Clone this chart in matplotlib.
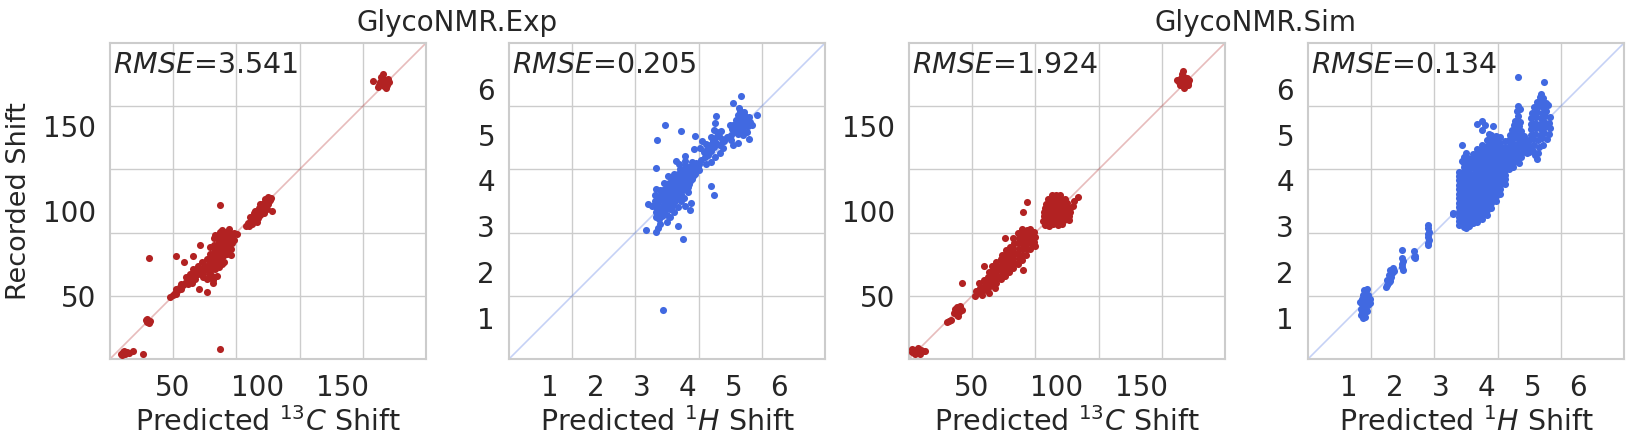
import matplotlib
matplotlib.use("Agg")
import matplotlib.pyplot as plt

# colours
C_COLOR = "firebrick"
H_COLOR = "royalblue"

# axis ranges and tick labels
c_lim = [13, 199]
h_lim = [0.1, 7.0]
c_ticks = [50, 100, 150]
h_ticks = [1, 2, 3, 4, 5, 6]

titles = ["GlycoNMR.Exp", "GlycoNMR.Sim"]
rmse = ["3.541", "0.205", "1.924", "0.134"]

# ---- GlycoNMR.Exp, 13C (predicted, recorded) ----
exp_c_top = [(167.8, 176.5), (171, 173), (172, 176), (173, 178), (174, 175), (175, 177),
             (176, 174), (177, 176), (173.5, 180.5), (172.5, 179), (175.5, 172.5),
             (171.5, 174.5), (176.5, 178), (174, 173.5)]
exp_c_100 = [(93, 91), (94, 93), (95, 91.5), (96, 94), (97, 96), (95.5, 96.5), (98, 95),
             (99, 97), (100, 99), (98.5, 100), (101, 98), (102, 101), (100.5, 102),
             (103, 103), (104, 102), (102.5, 104.5), (105, 105), (106, 104), (104.5, 107),
             (107, 106.5), (106, 108.5), (108, 108), (105.5, 101.5), (103.5, 99),
             (99.5, 93.5), (97.5, 99), (101.5, 104), (108.3, 100.3), (96.5, 92.5),
             (100, 96), (104, 105.5), (106.5, 106)]
exp_c_main = [(70, 66), (71, 69), (72, 67), (72, 71), (73, 70), (73, 74), (74, 72), (74, 76),
              (75, 70), (75, 74), (75, 78), (76, 73), (76, 77), (76, 80), (77, 75), (77, 79),
              (77, 82), (78, 72), (78, 77), (78, 81), (78, 85), (79, 76), (79, 80), (79, 84),
              (80, 74), (80, 78), (80, 82), (80, 86), (81, 77), (81, 81), (81, 84), (82, 79),
              (82, 83), (82, 87), (83, 80), (83, 84), (84, 78), (84, 82), (84, 86), (85, 81),
              (85, 84), (86, 83), (86, 87), (76, 84), (74, 80), (72, 75), (70, 72), (71, 63),
              (73, 66), (74, 68), (76, 69), (77, 71), (79, 73), (68, 64), (69, 68), (67, 70),
              (66, 64), (68, 61), (70, 60), (72, 63), (75, 66), (76, 62), (73, 62), (77, 67),
              (80, 70), (82, 75), (79, 69), (74, 84), (78, 88), (81, 88), (75, 86), (72, 79)]
exp_c_low = [(48.3, 49.7), (50, 50.5), (51, 52), (52, 51), (53, 53.5), (54.2, 55.6), (55, 54),
             (56, 56.5), (57, 58), (58.1, 58.5), (59, 57), (60, 60.5), (61.1, 62.4), (62, 61),
             (63, 64), (64, 65.4), (65, 63), (66, 66), (67, 65), (63, 60), (60, 63), (58, 61),
             (55, 57), (52, 54), (65, 68), (62, 66), (61, 58),
             (34.5, 34.5), (35.5, 35.5), (36, 34), (35, 36.5), (36.5, 35.3), (34, 35.8),
             (20, 15.5), (21, 16.5), (22, 15.8), (23, 17), (21.5, 17.8), (24, 16.5),
             (20.5, 17), (22.5, 16.8), (26.5, 17.5), (19.5, 15.8)]
exp_c_out = [(77.7, 103.6), (36, 72.3), (51.8, 73.6), (56.8, 69.9), (61.6, 73.8), (66, 80.1),
             (73.8, 59.5), (73.8, 57.7), (65.6, 54), (69.9, 52.3), (84, 74.2), (77.7, 18.7),
             (32.6, 16), (87.5, 86.4), (78.7, 88.9), (83.2, 89.3)]

# ---- GlycoNMR.Exp, 1H ----
exp_h_main = [(3.30, 3.20), (3.38, 3.15), (3.45, 3.22), (3.32, 3.30), (3.40, 3.28), (3.48, 3.32),
              (3.55, 3.25), (3.30, 3.42), (3.38, 3.40), (3.46, 3.45), (3.54, 3.40), (3.62, 3.38),
              (3.28, 3.55), (3.36, 3.52), (3.44, 3.58), (3.52, 3.55), (3.60, 3.52), (3.68, 3.50),
              (3.34, 3.65), (3.42, 3.68), (3.50, 3.70), (3.58, 3.66), (3.66, 3.64), (3.74, 3.62),
              (3.46, 3.80), (3.54, 3.82), (3.62, 3.78), (3.70, 3.76), (3.78, 3.74), (3.86, 3.70),
              (3.52, 3.92), (3.60, 3.95), (3.68, 3.90), (3.76, 3.88), (3.84, 3.86), (3.92, 3.82),
              (3.64, 4.05), (3.72, 4.02), (3.80, 4.00), (3.88, 3.98), (3.96, 3.95), (4.04, 3.92),
              (3.70, 4.15), (3.78, 4.14), (3.86, 4.12), (3.94, 4.10), (4.02, 4.06), (4.10, 4.02),
              (3.84, 4.24), (3.92, 4.22), (4.00, 4.20), (4.08, 4.18), (4.16, 4.14), (3.95, 4.33),
              (4.03, 4.30), (4.11, 4.28), (4.19, 4.26), (4.25, 4.22), (4.10, 4.40), (4.18, 4.38),
              (4.25, 4.35), (3.55, 3.10), (3.62, 3.20), (3.70, 3.30), (3.78, 3.42), (3.85, 3.55),
              (3.92, 3.62), (4.00, 3.75), (3.58, 4.10), (3.48, 3.95), (3.40, 3.80), (3.28, 3.68),
              (3.22, 3.45), (3.95, 4.42), (3.82, 4.35), (3.75, 4.42),
              (3.34, 3.36), (3.42, 3.34), (3.50, 3.48), (3.58, 3.46), (3.66, 3.44), (3.38, 3.60),
              (3.48, 3.62), (3.56, 3.60), (3.64, 3.58), (3.72, 3.56), (3.44, 3.74), (3.56, 3.74),
              (3.66, 3.70), (3.74, 3.68), (3.82, 3.66), (3.56, 3.88), (3.64, 3.86), (3.72, 3.84),
              (3.80, 3.80), (3.88, 3.78), (3.68, 3.98), (3.76, 3.94), (3.84, 3.92), (3.92, 3.90),
              (4.00, 3.86), (3.74, 4.08), (3.82, 4.06), (3.90, 4.04), (3.98, 4.02), (4.06, 3.98),
              (3.88, 4.18), (3.96, 4.16), (4.04, 4.12), (4.12, 4.10), (4.00, 4.27), (4.08, 4.24),
              (4.15, 4.21), (4.14, 4.32), (4.22, 4.30)]
exp_h_mid = [(4.30, 4.45), (4.38, 4.50), (4.45, 4.55), (4.35, 4.62), (4.42, 4.68), (4.50, 4.65),
             (4.58, 4.72), (4.40, 4.80), (4.48, 4.78), (4.55, 4.85), (4.62, 4.82), (4.70, 4.78),
             (4.52, 4.95), (4.60, 4.92), (4.68, 4.98), (4.75, 4.90), (4.80, 4.85), (4.65, 5.05),
             (4.72, 5.08), (4.32, 4.85), (4.28, 4.70), (4.78, 4.70), (4.70, 4.60), (4.60, 4.50),
             (4.50, 4.40), (4.40, 4.35), (4.85, 4.95), (4.95, 4.88)]
exp_h_top = [(4.95, 5.00), (5.02, 5.05), (5.10, 5.02), (4.98, 5.12), (5.06, 5.15), (5.14, 5.12),
             (5.22, 5.10), (5.00, 5.22), (5.08, 5.25), (5.16, 5.22), (5.24, 5.20), (5.32, 5.18),
             (5.05, 5.32), (5.13, 5.35), (5.21, 5.32), (5.29, 5.30), (5.37, 5.28), (5.10, 5.42),
             (5.18, 5.45), (5.26, 5.40), (5.34, 5.38), (5.15, 5.52), (5.23, 5.50), (5.12, 5.58),
             (4.92, 5.20), (5.40, 5.20), (5.30, 5.05), (5.20, 5.00)]
exp_h_out = [(4.63, 5.40), (4.60, 5.25), (4.58, 5.10), (4.16, 4.98), (4.14, 4.69), (3.85, 5.07),
             (3.50, 5.20), (3.34, 4.88), (3.30, 4.27), (3.95, 4.53), (4.58, 3.68), (4.52, 3.87),
             (3.14, 3.49), (3.10, 2.91), (3.32, 2.87), (3.78, 3.00), (3.89, 2.72), (3.47, 1.18),
             (4.05, 3.36), (4.07, 3.50), (3.30, 3.82), (3.36, 2.95), (3.40, 3.05), (3.95, 3.45),
             (5.17, 5.85), (5.00, 5.70), (5.52, 5.42), (5.34, 4.90), (5.00, 4.78), (5.10, 4.82)]

# ---- GlycoNMR.Sim, 13C ----
sim_c_top = [(172, 176), (174, 174), (176, 176), (178, 177), (173, 178.5), (175, 179), (177, 174),
             (175, 172.5), (173.5, 181), (174.5, 182.5), (171, 177.5), (176.5, 178.5),
             (174, 177), (177.5, 175.5), (172.5, 174.5)]
sim_c_100 = [(93, 92), (95.5, 91.5), (98, 92.2), (100.5, 91.8), (103, 92.3),
             (92, 94.5), (94.5, 94.8), (97, 94.3), (99.5, 94.6), (102, 94.4), (104.5, 94.7), (107, 95),
             (92.2, 97), (94.5, 97.3), (97, 96.8), (99.5, 97.2), (102, 97), (104.5, 97.2), (107, 97.4),
             (92.5, 99.5), (95, 99.8), (97.5, 99.3), (100, 99.6), (102.5, 99.4), (105, 99.7), (107.5, 99.8),
             (93, 102), (95.5, 102.3), (98, 101.8), (100.5, 102.2), (103, 102), (105.5, 102.3), (108, 102),
             (93.5, 104.5), (96, 104.8), (98.5, 104.3), (101, 104.6), (103.5, 104.4), (106, 104.6),
             (95, 107), (97.5, 107.3), (100, 106.8), (102.5, 107.2), (105, 107),
             (97, 109.5), (99.5, 109.8), (102, 109.3), (112.7, 108.2), (110, 106), (109.5, 103)]
sim_c_main = [(52, 50), (52.5, 53), (54.5, 52), (55, 55), (54, 57.5), (57, 53.5), (57.5, 56.5),
              (57, 59.5), (59.5, 55), (60, 58), (59.5, 61), (60, 64), (62, 56.5), (62.5, 59.5),
              (62, 62.5), (62.5, 65.5), (62, 68), (64.5, 58), (65, 61), (64.5, 64), (65, 67),
              (64.5, 70), (67, 60), (67.5, 63), (67, 66), (67.5, 69), (67, 72), (67.5, 74.5),
              (69.5, 62), (70, 65), (69.5, 68), (70, 71), (69.5, 74), (70, 77), (72, 64),
              (72.5, 67), (72, 70), (72.5, 73), (72, 76), (72.5, 79), (74.5, 66.5), (75, 69.5),
              (74.5, 72.5), (75, 75.5), (74.5, 78.5), (75, 81.5), (74.5, 84), (77, 69), (77.5, 72),
              (77, 75), (77.5, 78), (77, 81), (77.5, 84), (77.4, 87), (79.5, 71.5), (80, 74.5),
              (79.5, 77.5), (80, 80.5), (79.5, 83.5), (80, 86.5), (79.5, 89.5), (82, 74.5),
              (82.5, 77.5), (82, 80.5), (82.5, 83.5), (82, 86.5), (82.5, 89), (84.5, 78),
              (85, 81), (84.5, 84), (85, 87), (84.2, 89.5), (86.5, 82), (87, 85), (86.5, 88),
              (87, 79.5), (63.6, 54.6), (60, 52), (56, 50.5)]
sim_c_low = [(39.5, 40), (41, 39), (42.5, 40.5), (44, 42), (40, 42.5), (41.5, 43.5), (43, 44),
             (42, 38.5), (36.5, 35.5), (37.5, 36), (35.5, 34.5),
             (15, 17), (16, 18.5), (17, 16.5), (18, 18), (19, 17), (20, 18.5), (21, 17.5),
             (22.5, 18), (16.5, 15.8), (18.5, 19.5), (14.8, 18.8), (19.5, 16)]
sim_c_out = [(82.6, 105.6), (80.3, 99.7), (69.5, 84), (57.3, 67.7), (44.4, 57.6), (80.3, 65.4)]

# ---- GlycoNMR.Sim, 1H ----
sim_h_low = [(1.25, 1.05), (1.30, 1.00), (1.35, 1.02), (1.28, 1.12), (1.33, 1.10), (1.38, 1.15),
             (1.25, 1.20), (1.30, 1.22), (1.36, 1.25), (1.41, 1.28), (1.27, 1.30), (1.32, 1.33),
             (1.38, 1.36), (1.43, 1.38), (1.29, 1.40), (1.34, 1.43), (1.40, 1.45), (1.45, 1.42),
             (1.31, 1.50), (1.36, 1.53), (1.42, 1.50), (1.33, 1.60), (1.38, 1.62), (1.24, 1.35),
             (1.46, 1.32),
             (1.80, 1.68), (1.83, 1.72), (1.86, 1.78), (1.82, 1.82), (1.88, 1.85), (1.92, 1.90),
             (1.86, 1.93), (1.93, 1.98), (1.97, 2.02), (1.90, 2.05), (1.95, 2.08), (1.84, 1.75),
             (1.90, 1.80),
             (2.16, 2.48), (2.15, 2.30), (2.17, 2.25), (2.15, 2.18), (2.16, 2.10), (2.17, 2.05),
             (2.42, 2.45), (2.41, 2.33), (2.44, 2.31), (2.43, 2.35),
             (2.73, 3.03), (2.72, 2.95), (2.74, 2.88), (2.73, 2.82), (2.71, 2.76), (2.74, 2.70),
             (2.72, 2.64), (2.73, 2.58), (3.27, 3.27)]
sim_h_blob_x = [3.40] * 13 + [3.50] * 15 + [3.60] * 16 + [3.70] * 16 + [3.80] * 17 + [3.90] * 17 \
    + [4.00] * 17 + [4.10] * 17 + [4.20] * 15 + [4.30] * 13 + [4.40] * 10
sim_h_blob_y = [3.02, 3.11, 3.21, 3.30, 3.41, 3.50, 3.61, 3.70, 3.81, 3.90, 4.01, 4.10, 4.19,
                2.98, 3.08, 3.18, 3.29, 3.38, 3.49, 3.58, 3.68, 3.79, 3.88, 3.99, 4.08, 4.19, 4.29, 4.38,
                3.01, 3.10, 3.21, 3.31, 3.40, 3.51, 3.60, 3.71, 3.80, 3.91, 4.00, 4.11, 4.20, 4.31, 4.40, 4.49,
                3.06, 3.15, 3.26, 3.35, 3.46, 3.55, 3.66, 3.75, 3.86, 3.95, 4.06, 4.15, 4.26, 4.35, 4.46, 4.57,
                3.10, 3.20, 3.30, 3.40, 3.50, 3.60, 3.70, 3.80, 3.90, 4.00, 4.10, 4.20, 4.30, 4.40, 4.50, 4.60, 4.69,
                3.16, 3.26, 3.36, 3.46, 3.56, 3.66, 3.76, 3.86, 3.96, 4.06, 4.16, 4.26, 4.36, 4.46, 4.56, 4.66, 4.78,
                3.25, 3.36, 3.46, 3.56, 3.66, 3.76, 3.86, 3.96, 4.06, 4.16, 4.26, 4.36, 4.46, 4.56, 4.66, 4.76, 4.88,
                3.40, 3.50, 3.60, 3.70, 3.80, 3.90, 4.00, 4.10, 4.20, 4.30, 4.40, 4.50, 4.60, 4.70, 4.80, 4.90, 4.99,
                3.56, 3.66, 3.76, 3.86, 3.96, 4.06, 4.16, 4.26, 4.36, 4.46, 4.56, 4.66, 4.76, 4.86, 4.97,
                3.71, 3.81, 3.91, 4.01, 4.11, 4.21, 4.31, 4.41, 4.51, 4.61, 4.71, 4.81, 4.95,
                3.92, 4.02, 4.12, 4.22, 4.32, 4.42, 4.52, 4.62, 4.72, 4.86]
sim_h_mid = [(4.48, 4.25), (4.58, 4.30), (4.50, 4.35), (4.60, 4.40), (4.70, 4.38), (4.48, 4.45),
             (4.56, 4.50), (4.66, 4.48), (4.76, 4.52), (4.50, 4.56), (4.60, 4.60), (4.70, 4.58),
             (4.80, 4.62), (4.88, 4.60), (4.48, 4.66), (4.56, 4.70), (4.66, 4.68), (4.76, 4.72),
             (4.86, 4.70), (4.50, 4.78), (4.60, 4.80), (4.70, 4.82), (4.80, 4.80), (4.90, 4.78),
             (4.48, 4.88), (4.56, 4.90), (4.66, 4.92), (4.76, 4.90), (4.86, 4.88), (4.52, 5.00),
             (4.62, 5.02), (4.72, 5.00), (4.82, 4.98), (4.56, 5.10), (4.66, 5.12), (4.76, 5.08),
             (4.60, 5.20), (4.70, 5.18), (4.63, 5.30), (4.72, 5.28), (4.69, 5.40), (4.66, 5.52),
             (4.73, 5.55), (4.69, 5.62), (4.44, 4.40), (4.42, 4.55)]
sim_h_top = [(4.92, 4.62), (5.02, 4.65), (5.12, 4.60), (4.94, 4.75), (5.04, 4.78), (5.14, 4.74),
             (5.24, 4.78), (4.92, 4.88), (5.02, 4.90), (5.12, 4.88), (5.22, 4.92), (5.32, 4.90),
             (4.96, 5.00), (5.06, 5.02), (5.16, 5.00), (5.26, 5.04), (5.36, 5.02), (4.98, 5.12),
             (5.08, 5.14), (5.18, 5.12), (5.28, 5.16), (5.38, 5.14), (4.96, 5.24), (5.06, 5.26),
             (5.16, 5.24), (5.26, 5.28), (5.36, 5.26), (4.98, 5.36), (5.08, 5.38), (5.18, 5.36),
             (5.28, 5.40), (5.38, 5.38), (5.00, 5.48), (5.10, 5.50), (5.20, 5.48), (5.30, 5.52),
             (5.04, 5.60), (5.14, 5.62), (5.24, 5.60), (5.34, 5.64), (5.10, 5.72), (5.20, 5.74),
             (5.30, 5.70), (5.16, 5.82), (5.24, 5.80), (5.18, 5.88), (5.11, 4.47), (5.05, 4.55)]
sim_h_out = [(3.78, 5.23), (3.89, 5.29), (3.97, 5.20), (3.89, 5.10), (4.13, 5.18), (3.46, 4.77),
             (3.46, 4.42), (3.27, 3.29), (3.62, 3.00), (3.55, 2.95), (4.69, 6.25), (5.26, 6.15),
             (3.50, 4.50), (3.55, 4.60), (4.05, 5.02)]


def unzip(*groups):
    xs, ys = [], []
    for g in groups:
        for x, y in g:
            xs.append(x)
            ys.append(y)
    return xs, ys


exp_c = unzip(exp_c_top, exp_c_100, exp_c_main, exp_c_low, exp_c_out)
exp_h = unzip(exp_h_main, exp_h_mid, exp_h_top, exp_h_out)
sim_c = unzip(sim_c_top, sim_c_100, sim_c_main, sim_c_low, sim_c_out)
sim_h = unzip(sim_h_low, list(zip(sim_h_blob_x, sim_h_blob_y)), sim_h_mid, sim_h_top, sim_h_out)

panels = [
    (exp_c, C_COLOR, c_lim, c_ticks, r"Predicted $^{13}C$ Shift", rmse[0]),
    (exp_h, H_COLOR, h_lim, h_ticks, r"Predicted $^{1}H$ Shift", rmse[1]),
    (sim_c, C_COLOR, c_lim, c_ticks, r"Predicted $^{13}C$ Shift", rmse[2]),
    (sim_h, H_COLOR, h_lim, h_ticks, r"Predicted $^{1}H$ Shift", rmse[3]),
]

plt.rcParams["font.family"] = ["DejaVu Sans"]
plt.rcParams["text.color"] = "#262626"
plt.rcParams["xtick.color"] = "#262626"
plt.rcParams["ytick.color"] = "#262626"
plt.rcParams["axes.labelcolor"] = "#262626"

fig = plt.figure(figsize=(16.34, 4.46), dpi=100)
W, H = 1634, 446
lefts = [110, 509, 909, 1308]

for i, ((xs, ys), color, lim, ticks, xlabel, r) in enumerate(panels):
    ax = fig.add_axes([lefts[i] / W, 87 / H, 316 / W, 316 / H])

    # diagonal reference line
    ax.plot(lim, lim, color=color, alpha=0.3, lw=1.2, zorder=1)
    ax.scatter(xs, ys, s=26, color=color, linewidths=0, zorder=3)

    ax.set_xlim(lim)
    ax.set_ylim(lim)

    # grid sits at fixed fractions of the box, labels sit at the data ticks
    grid = [lim[0] + (lim[1] - lim[0]) * f for f in (0.2, 0.4, 0.6, 0.8)]
    ax.set_xticks(grid)
    ax.set_yticks(grid)
    ax.set_xticklabels([])
    ax.set_yticklabels([])
    ax.set_xticks(ticks, minor=True)
    ax.set_yticks(ticks, minor=True)
    ax.set_xticklabels([str(t) for t in ticks], minor=True)
    ax.set_yticklabels([str(t) for t in ticks], minor=True)
    ax.tick_params(which="both", length=0, labelsize=20)
    ax.tick_params(axis="x", which="minor", pad=10.5)
    ax.tick_params(axis="y", which="minor", pad=10)
    ax.grid(True, which="major", color="#cccccc", lw=1.0, zorder=0)
    ax.set_axisbelow(True)
    for s in ax.spines.values():
        s.set_color("#cccccc")
        s.set_linewidth(1.5)

    ax.set_xlabel(xlabel, fontsize=20.5, labelpad=4)
    if i == 0:
        ax.set_ylabel("Recorded Shift", fontsize=19.5, labelpad=8)

    ax.text(0.01, 0.975, "$RMSE$=" + r, transform=ax.transAxes, va="top", ha="left", fontsize=20.5)

fig.text(457 / W, 1 - 23 / H, titles[0], ha="center", va="center", fontsize=20)
fig.text(1256 / W, 1 - 23 / H, titles[1], ha="center", va="center", fontsize=20)

fig.savefig("out.png", dpi=100)
